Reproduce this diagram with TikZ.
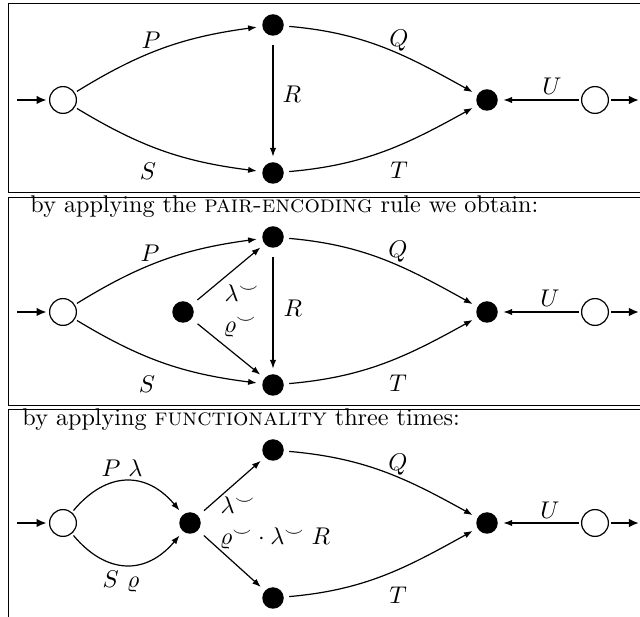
\documentclass[tikz,border=0pt]{standalone}
\usetikzlibrary{arrows.meta}
\begin{document}
\begin{tikzpicture}[x=0.414pt,y=-0.414pt,
  wst/.style={circle,draw,line width=0.5pt,minimum size=11.1pt,inner sep=0pt,outer sep=1.2pt},
  bst/.style={circle,fill,minimum size=8.9pt,inner sep=0pt,outer sep=2.3pt},
  conn/.style={line width=0.5pt,-{Latex[length=3.6pt,width=2.6pt]}},
  entry/.style={line width=0.9pt,-{Latex[length=4.2pt,width=3.6pt]}},
  frm/.style={line width=0.4pt},
  lab/.style={inner sep=0pt},
  txt/.style={inner sep=0pt,anchor=base west}]
\useasboundingbox (0,0) rectangle (640,617);
% frame
\draw[frm] (640,3) -- (8,3) -- (8,192) -- (640,192);
\draw[frm] (640,197) -- (8,197) -- (8,405) -- (640,405);
\draw[frm] (640,409) -- (8,409) -- (8,617);
% ---------- panel 1
\node[wst] (i1) at (63,100) {};
\node[bst] (a1) at (273,25) {};
\node[bst] (b1) at (273,173) {};
\node[bst] (f1) at (487,100) {};
\node[wst] (w1) at (595,100) {};
\coordinate (s1) at (17,100);
\coordinate (e1) at (639,100);
\draw[entry] (s1) -- (i1);
\draw[entry] (w1) -- (e1);
\draw[conn] (i1) to[bend left=12] (a1);
\draw[conn] (i1) to[bend right=12] (b1);
\draw[conn,shorten <=1.5pt] (a1) -- (b1);
\draw[conn] (a1) to[out=-5,in=151] (f1);
\draw[conn] (b1) to[out=5,in=209] (f1);
\draw[conn] (w1) -- (f1);
\node[lab] (lp1) at (151,40) {$P$};
\node[lab] (ls1) at (148,171) {$S$};
\node[lab] (lr1) at (292,94) {$R$};
\node[lab] (lq1) at (399,41) {$Q$};
\node[lab] (lt1) at (399,170) {$T$};
\node[lab] (lu1) at (552,86) {$U$};
% ---------- panel 2
\node[txt] (t2) at (30,213) {by applying the \textsc{pair-encoding} rule we obtain:};
\node[wst] (i2) at (63,312) {};
\node[bst] (m2) at (183,312) {};
\node[bst] (a2) at (273,237) {};
\node[bst] (b2) at (273,385) {};
\node[bst] (f2) at (487,312) {};
\node[wst] (w2) at (595,312) {};
\coordinate (s2) at (17,312);
\coordinate (e2) at (639,312);
\draw[entry] (s2) -- (i2);
\draw[entry] (w2) -- (e2);
\draw[conn] (i2) to[bend left=12] (a2);
\draw[conn] (i2) to[bend right=12] (b2);
\draw[conn,shorten <=1pt] (m2) -- (a2);
\draw[conn,shorten <=1pt] (m2) -- (b2);
\draw[conn,shorten <=1.5pt] (a2) -- (b2);
\draw[conn] (a2) to[out=-5,in=151] (f2);
\draw[conn] (b2) to[out=5,in=209] (f2);
\draw[conn] (w2) -- (f2);
\node[lab] (lp2) at (150,253) {$P$};
\node[lab] (ls2) at (147,384) {$S$};
\node[lab] (lr2) at (293,308) {$R$};
\node[lab] (ll2) at (242,293) {$\lambda^\smile$};
\node[lab] (lo2) at (240,327) {$\varrho^\smile$};
\node[lab] (lq2) at (398,252) {$Q$};
\node[lab] (lt2) at (398,383) {$T$};
\node[lab] (lu2) at (550,298) {$U$};
% ---------- panel 3
\node[txt] (t3) at (22,426) {by applying \textsc{functionality} three times:};
\node[wst] (i3) at (63,523) {};
\node[bst] (m3) at (190,523) {};
\node[bst] (a3) at (273,450) {};
\node[bst] (b3) at (273,598) {};
\node[bst] (f3) at (487,523) {};
\node[wst] (w3) at (595,523) {};
\coordinate (s3) at (17,523);
\coordinate (e3) at (639,523);
\draw[entry] (s3) -- (i3);
\draw[entry] (w3) -- (e3);
\draw[conn] (i3) to[bend left=50,looseness=1.25] (m3);
\draw[conn] (i3) to[bend right=50,looseness=1.25] (m3);
\draw[conn,shorten <=1pt] (m3) -- (a3);
\draw[conn,shorten <=1pt] (m3) -- (b3);
\draw[conn] (a3) to[out=-5,in=151] (f3);
\draw[conn] (b3) to[out=5,in=209] (f3);
\draw[conn] (w3) -- (f3);
\node[lab] (lp3) at (122,468) {$P\ \lambda$};
\node[lab] (ls3) at (121,582) {$S\ \varrho$};
\node[lab] (ll3) at (238,505) {$\lambda^\smile$};
\node[lab,anchor=base] (lo3) at (275,545) {$\varrho^\smile\cdot\lambda^\smile\;R$};
\node[lab] (lq3) at (398,465) {$Q$};
\node[lab] (lt3) at (398,595) {$T$};
\node[lab] (lu3) at (550,510) {$U$};
\end{tikzpicture}
\end{document}
